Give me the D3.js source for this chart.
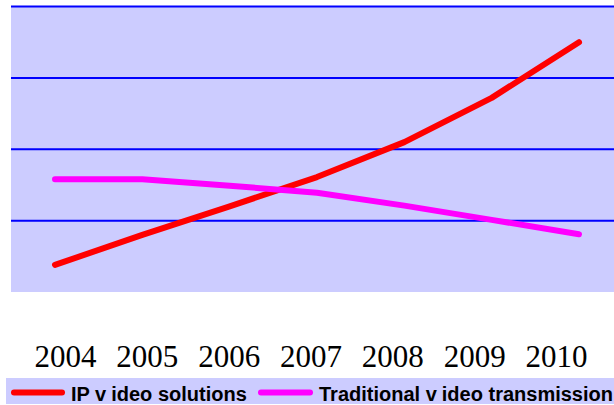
<!DOCTYPE html>
<html><head><meta charset="utf-8">
<script src="https://cdn.jsdelivr.net/npm/d3@7"></script>
<style>html,body{margin:0;padding:0;background:#fff;overflow:hidden}</style>
</head><body>
<svg id="c" width="614" height="405"></svg>
<script>
const years = ["2004","2005","2006","2007","2008","2009","2010"];
const ipVideo = [0.38, 0.80, 1.20, 1.61, 2.10, 2.72, 3.50];
const traditional = [1.58, 1.58, 1.49, 1.39, 1.21, 1.01, 0.81];
const yTicks = [1, 2, 3, 4];
const seriesNames = [["IP v", "ideo solutions"], ["Traditional v", "ideo transmission"]];
const seriesColors = ["#ff0000", "#ff00ff"];

const svg = d3.select("#c");
const plot = {left: 11, right: 614, top: 6.5, bottom: 292};

const x = d3.scalePoint().domain(years).range([55, 579]);
const xLabels = d3.scalePoint().domain(years).range([65, 556]);
const y = d3.scaleLinear().domain([0, 4]).range([plot.bottom, plot.top]);

svg.append("rect").attr("x", plot.left).attr("y", plot.top)
  .attr("width", plot.right - plot.left).attr("height", plot.bottom - plot.top)
  .attr("fill", "#ccccff");

svg.append("g").selectAll("line").data(yTicks).join("line")
  .attr("x1", plot.left).attr("x2", plot.right)
  .attr("y1", d => y(d)).attr("y2", d => y(d))
  .attr("stroke", "#0000ff").attr("stroke-width", 2);

const line = d3.line().x((d, i) => x(years[i])).y(d => y(d));
[ipVideo, traditional].forEach((s, k) => {
  svg.append("path").datum(s).attr("d", line)
    .attr("fill", "none").attr("stroke", seriesColors[k])
    .attr("stroke-width", 6).attr("stroke-linecap", "round").attr("stroke-linejoin", "round");
});

const xAxis = svg.append("g").attr("transform", "translate(0,367)")
  .call(d3.axisBottom(xLabels).tickSize(0).tickPadding(0));
xAxis.select(".domain").remove();
xAxis.selectAll("text").attr("dy", 0).attr("fill", "#000")
  .style("font-family", "'Liberation Serif', 'Times New Roman', serif").style("font-size", "31px");

// legend
svg.append("rect").attr("x", 6).attr("y", 378).attr("width", 610).attr("height", 26).attr("fill", "#ccccff");
const legX = [{l1: 11, l2: 65, t: 71}, {l1: 258, l2: 313, t: 319}];
seriesNames.forEach((n, k) => {
  svg.append("line").attr("x1", legX[k].l1 + 3).attr("x2", legX[k].l2 - 3)
    .attr("y1", 392.5).attr("y2", 392.5).attr("stroke", seriesColors[k])
    .attr("stroke-width", 6).attr("stroke-linecap", "round");
  const t = svg.append("text").attr("x", legX[k].t).attr("y", 400.5)
    .attr("fill", "#000").style("font-family", "'Liberation Sans', Arial, sans-serif")
    .style("font-weight", "bold").style("font-size", "20px");
  t.append("tspan").text(n[0]);
  t.append("tspan").attr("dx", 5).text(n[1]);
});
</script>
</body></html>
